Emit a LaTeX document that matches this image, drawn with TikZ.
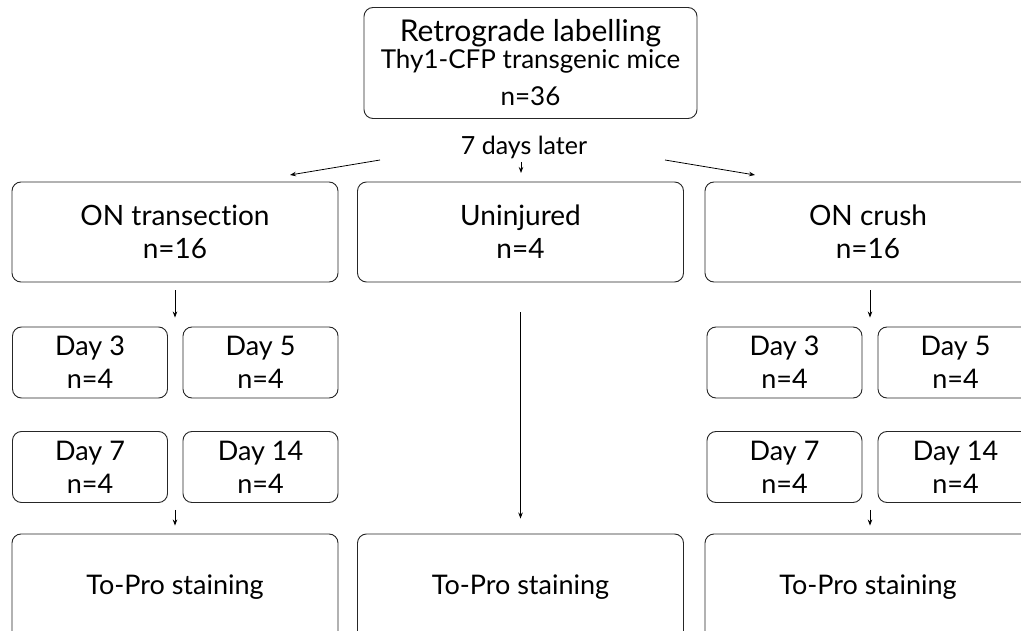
\documentclass[tikz,border=0pt]{standalone}
\usepackage{fontspec}
\setmainfont{Lato}[Ligatures=NoCommon]
\usetikzlibrary{arrows.meta}

\tikzset{
  box/.style={draw=black!85, rounded corners=9pt, line width=0.9pt, align=center, inner sep=0pt,
    font=\fontsize{27}{33}\selectfont},
  bigbox/.style={box, minimum width=326pt, minimum height=100pt},
  daybox/.style={box, minimum width=155pt, minimum height=71pt},
  arr/.style={-{Stealth[length=6pt,width=4.5pt]}, line width=0.8pt}
}

\begin{document}
\begin{tikzpicture}[x=1pt,y=-1pt]

\useasboundingbox (0,0) rectangle (1021,631);
\clip (0,0) rectangle (1021,631);

% top
\node[box, minimum width=333pt, minimum height=111pt] (retro) at (530.5,63)
  {{\fontsize{30}{30}\selectfont Retrograde labelling}\\[-6pt]{\fontsize{26}{26}\selectfont Thy1-CFP transgenic mice}\\[4pt]{\fontsize{26}{26}\selectfont n=36}};

\node[font=\fontsize{25}{26}\selectfont] (later) at (524,147) {7 days later};

\coordinate (lfrom) at (380,160);
\coordinate (lto) at (290,175);
\coordinate (mfrom) at (521,162);
\coordinate (mto) at (521,173);
\coordinate (rfrom) at (665,160);
\coordinate (rto) at (755,175);

\foreach \a/\b in {lfrom/lto, mfrom/mto, rfrom/rto}
    \draw[arr] (\a) -- (\b);

% groups
\node[bigbox, font=\fontsize{28}{33}\selectfont] (tran) at (175,232) {ON transection\\n=16};
\node[bigbox, font=\fontsize{28}{33}\selectfont] (unin) at (520.5,232) {Uninjured\\n=4};
\node[bigbox, font=\fontsize{28}{33}\selectfont] (crush) at (868,232) {ON crush\\n=16};

% days
\foreach \name/\x/\y/\d in {t3/90/362.5/3, t5/260.5/362.5/5, t7/90/467/7, t14/260.5/467/14,
                            c3/784.5/362.5/3, c5/955.5/362.5/5, c7/784.5/467/7, c14/955.5/467/14}
    \node[daybox] (\name) at (\x,\y) {Day \d\\n=4};

% staining
\node[bigbox, minimum height=106pt] (tstain) at (175,587) {To-Pro staining};
\node[bigbox, minimum height=106pt] (ustain) at (520.5,587) {To-Pro staining};
\node[bigbox, minimum height=106pt] (cstain) at (868,587) {To-Pro staining};

\draw[arr, shorten <=8pt, shorten >=9pt] (tran.south) -- (tran.south |- t3.north);
\draw[arr, shorten <=8pt, shorten >=9pt] ([xshift=2pt]crush.south) -- ([xshift=2pt]crush.south |- c3.north);
\draw[arr, shorten <=7pt, shorten >=8pt] (tstain.north |- t7.south) -- (tstain.north);
\draw[arr, shorten <=7pt, shorten >=8pt] ([xshift=2pt]cstain.north |- c7.south) -- ([xshift=2pt]cstain.north);
\draw[arr, shorten <=30pt, shorten >=15pt] (unin.south) -- (ustain.north);

\end{tikzpicture}
\end{document}
